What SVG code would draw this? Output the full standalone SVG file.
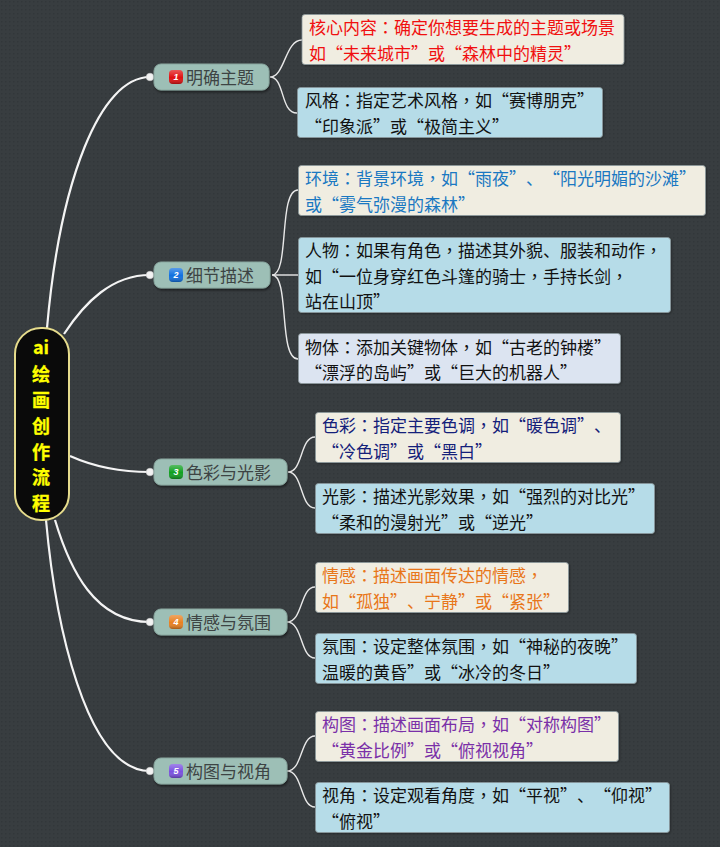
<svg xmlns="http://www.w3.org/2000/svg" width="720" height="847" viewBox="0 0 720 847">
<style>
text{font-family:"Noto Sans CJK SC","Noto Sans CJK TC",sans-serif;text-spacing-trim:space-all;font-kerning:none}
.p{font-family:"Noto Sans CJK TC","Noto Sans CJK SC",sans-serif}
.t{font-size:17px;fill:#111;transform:translateY(.8px)}
.leaf{stroke:#8a979a;stroke-width:.8;filter:url(#s)}
.a{fill:#f0ede1}.b{fill:#b6dce8}.c{fill:#dce4f1}
.topic{fill:#9dbfb6;stroke:#8aa8a0;stroke-width:1;filter:url(#s2)}
.tt{font-size:17px;fill:#3d4444;transform:translateY(.8px)}
.num{font-size:9px;fill:#fff;text-anchor:middle;font-family:"Liberation Sans",sans-serif;font-style:italic;font-weight:bold}
.main{fill:none;stroke:#f4f4f4;stroke-width:2.2}
.sub{fill:none;stroke:#e8e8e8;stroke-width:1.4}
.dot{fill:#f2f2f2;stroke:#ccc;stroke-width:.5}
.ct{font-size:18px;font-weight:700;fill:#ffff00;text-anchor:middle;stroke:#ffff00;stroke-width:.3}
.gl{fill:url(#gloss)}
</style>
<defs>
<pattern id="bg" width="4" height="4" patternUnits="userSpaceOnUse"><rect width="4" height="4" fill="#383d40"/><rect x="1" y="1" width="1.5" height="1.5" fill="#32373a"/></pattern>
<linearGradient id="gloss" x1="0" y1="0" x2="0" y2="1"><stop offset="0" stop-color="#fff" stop-opacity=".3"/><stop offset=".55" stop-color="#fff" stop-opacity="0"/><stop offset="1" stop-color="#000" stop-opacity=".3"/></linearGradient>
<filter id="s" x="-10%" y="-20%" width="125%" height="150%"><feDropShadow dx="1" dy="1" stdDeviation=".8" flood-color="#000" flood-opacity=".3"/></filter>
<filter id="s2" x="-10%" y="-20%" width="125%" height="150%"><feDropShadow dx="1" dy="2" stdDeviation="1.2" flood-color="#000" flood-opacity=".45"/></filter>
</defs>
<rect width="720" height="847" fill="url(#bg)"/>
<g id="connectors">
<path class="main" d="M47 328C60 180 100 77 150 77"/>
<path class="main" d="M64 334C85 302 112 275 150 275"/>
<path class="main" d="M70 456C90 465 115 472 150 472"/>
<path class="main" d="M55 520C70 570 95 622 150 622"/>
<path class="main" d="M46 520C55 620 85 771 150 771"/>
<path class="sub" d="M270 77C285 77 285 40 302 40"/>
<path class="sub" d="M270 77C285 77 280 113 297 113"/>
<path class="sub" d="M272 275C290 275 278 190 298 190"/>
<path class="sub" d="M272 275H298"/>
<path class="sub" d="M272 275C290 275 278 359 298 359"/>
<path class="sub" d="M288 472C303 472 300 437 315 437"/>
<path class="sub" d="M288 472C303 472 300 508 315 508"/>
<path class="sub" d="M287 622C303 622 300 587 315 587"/>
<path class="sub" d="M287 622C303 622 300 658 315 658"/>
<path class="sub" d="M287 771C303 771 300 736 315 736"/>
<path class="sub" d="M287 771C303 771 300 807 315 807"/>
<circle class="dot" cx="150" cy="77" r="3.8"/>
<circle class="dot" cx="150" cy="275" r="3.8"/>
<circle class="dot" cx="150" cy="472" r="3.8"/>
<circle class="dot" cx="150" cy="622" r="3.8"/>
<circle class="dot" cx="150" cy="771" r="3.8"/>
</g>
<g id="center"><rect x="15" y="328" width="54" height="192" rx="26" fill="#0a0a0a" stroke="#e6dc8c" stroke-width="2"/>
<text class="ct" x="41" y="354">ai</text><text class="ct" x="41" y="381">绘</text><text class="ct" x="41" y="407">画</text><text class="ct" x="41" y="433">创</text><text class="ct" x="41" y="459">作</text><text class="ct" x="41" y="484">流</text><text class="ct" x="41" y="510">程</text></g>
<g id="topic1"><rect class="topic" x="154" y="64" width="115" height="26" rx="7"/><rect x="169" y="70" width="14" height="14" rx="4" fill="#e01010"/><rect class="gl" x="169" y="70" width="14" height="14" rx="4"/><text class="num" x="176" y="80">1</text><text class="tt" x="186" y="83">明确主题</text></g>
<g id="topic2"><rect class="topic" x="154" y="262" width="116" height="26" rx="7"/><rect x="169" y="268" width="14" height="14" rx="4" fill="#1070e0"/><rect class="gl" x="169" y="268" width="14" height="14" rx="4"/><text class="num" x="176" y="278">2</text><text class="tt" x="186" y="281">细节描述</text></g>
<g id="topic3"><rect class="topic" x="154" y="459" width="133" height="26" rx="7"/><rect x="169" y="465" width="14" height="14" rx="4" fill="#10a020"/><rect class="gl" x="169" y="465" width="14" height="14" rx="4"/><text class="num" x="176" y="475">3</text><text class="tt" x="186" y="478">色彩与光影</text></g>
<g id="topic4"><rect class="topic" x="154" y="609" width="133" height="26" rx="7"/><rect x="169" y="615" width="14" height="14" rx="4" fill="#e88020"/><rect class="gl" x="169" y="615" width="14" height="14" rx="4"/><text class="num" x="176" y="625">4</text><text class="tt" x="186" y="628">情感与氛围</text></g>
<g id="topic5"><rect class="topic" x="154" y="758" width="133" height="26" rx="7"/><rect x="169" y="764" width="14" height="14" rx="4" fill="#7a50e0"/><rect class="gl" x="169" y="764" width="14" height="14" rx="4"/><text class="num" x="176" y="774">5</text><text class="tt" x="186" y="777">构图与视角</text></g>
<g id="leaf1a"><rect class="leaf a" x="302" y="14.500" width="322" height="50" rx="3"/><text class="t" style="fill:#f01010" x="309" y="33">核心内容<tspan class="p">：</tspan>确定你想要生成的主题或场景</text><text class="t" style="fill:#f01010" x="309" y="59">如“未来城市”或“森林中的精灵”</text></g>
<g id="leaf1b"><rect class="leaf b" x="297.500" y="87.500" width="305" height="50" rx="3"/><text class="t" x="305" y="106">风格<tspan class="p">：</tspan>指定艺术风格<tspan class="p">，</tspan>如“赛博朋克”</text><text class="t" x="305" y="132">“印象派”或“极简主义”</text></g>
<g id="leaf2a"><rect class="leaf a" x="298.500" y="165.500" width="407" height="50" rx="3"/><text class="t" style="fill:#1a78c2" x="305" y="184">环境<tspan class="p">：</tspan>背景环境<tspan class="p">，</tspan>如“雨夜”、“阳光明媚的沙滩”</text><text class="t" style="fill:#1a78c2" x="305" y="210">或“雾气弥漫的森林”</text></g>
<g id="leaf2b"><rect class="leaf b" x="298.500" y="237.500" width="372" height="75" rx="3"/><text class="t" x="305" y="256">人物<tspan class="p">：</tspan>如果有角色<tspan class="p">，</tspan>描述其外貌、服装和动作<tspan class="p">，</tspan></text><text class="t" x="305" y="282">如“一位身穿红色斗篷的骑士<tspan class="p">，</tspan>手持长剑<tspan class="p">，</tspan></text><text class="t" x="305" y="307">站在山顶”</text></g>
<g id="leaf2c"><rect class="leaf c" x="298.500" y="333.500" width="322" height="50" rx="3"/><text class="t" x="305" y="353">物体<tspan class="p">：</tspan>添加关键物体<tspan class="p">，</tspan>如“古老的钟楼”</text><text class="t" x="305" y="378">“漂浮的岛屿”或“巨大的机器人”</text></g>
<g id="leaf3a"><rect class="leaf a" x="315.500" y="412.500" width="305" height="50" rx="3"/><text class="t" style="fill:#14207a" x="322" y="431">色彩<tspan class="p">：</tspan>指定主要色调<tspan class="p">，</tspan>如“暖色调”、</text><text class="t" style="fill:#14207a" x="322" y="457">“冷色调”或“黑白”</text></g>
<g id="leaf3b"><rect class="leaf b" x="315.500" y="483.500" width="339" height="50" rx="3"/><text class="t" x="322" y="502">光影<tspan class="p">：</tspan>描述光影效果<tspan class="p">，</tspan>如“强烈的对比光”</text><text class="t" x="322" y="528">“柔和的漫射光”或“逆光”</text></g>
<g id="leaf4a"><rect class="leaf a" x="315.500" y="562.500" width="253" height="50" rx="3"/><text class="t" style="fill:#e8761a" x="322" y="581">情感<tspan class="p">：</tspan>描述画面传达的情感<tspan class="p">，</tspan></text><text class="t" style="fill:#e8761a" x="322" y="607">如“孤独”、宁静”或“紧张”</text></g>
<g id="leaf4b"><rect class="leaf b" x="315.500" y="633.500" width="321" height="50" rx="3"/><text class="t" x="322" y="652">氛围<tspan class="p">：</tspan>设定整体氛围<tspan class="p">，</tspan>如“神秘的夜晚”</text><text class="t" x="322" y="678">温暖的黄昏”或“冰冷的冬日”</text></g>
<g id="leaf5a"><rect class="leaf a" x="315.500" y="711.500" width="303" height="50" rx="3"/><text class="t" style="fill:#7a30a8" x="322" y="730">构图<tspan class="p">：</tspan>描述画面布局<tspan class="p">，</tspan>如“对称构图”</text><text class="t" style="fill:#7a30a8" x="322" y="756">“黄金比例”或“俯视视角”</text></g>
<g id="leaf5b"><rect class="leaf b" x="315.500" y="782.500" width="354" height="50" rx="3"/><text class="t" x="322" y="801">视角<tspan class="p">：</tspan>设定观看角度<tspan class="p">，</tspan>如“平视”、“仰视”</text><text class="t" x="322" y="827">“俯视”</text></g>
</svg>
